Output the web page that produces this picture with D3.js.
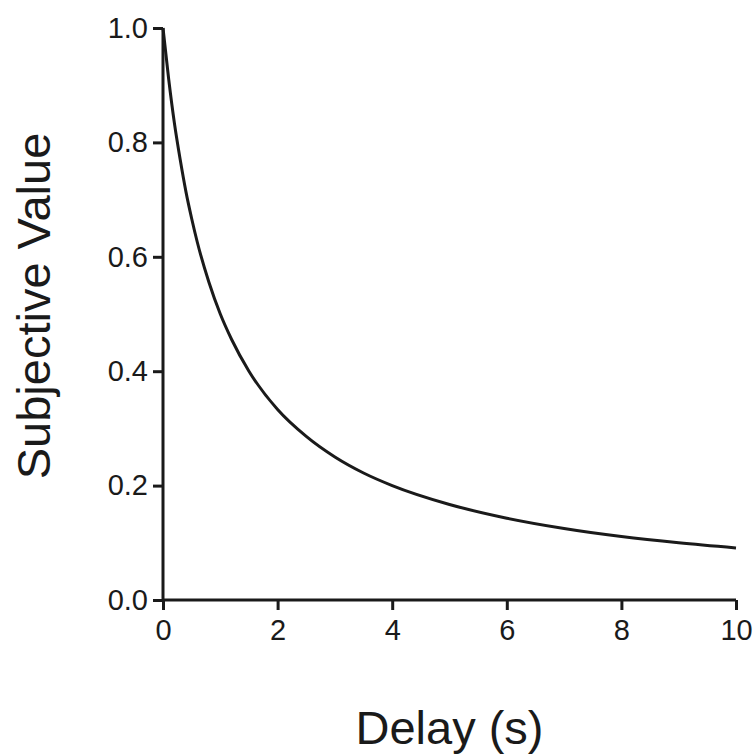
<!DOCTYPE html>
<html>
<head>
<meta charset="utf-8">
<script src="https://cdn.jsdelivr.net/npm/d3@7"></script>
<style>
  html, body { margin: 0; padding: 0; background: #fff; }
  svg { display: block; }
  text { font-family: "Liberation Sans", Arial, sans-serif; fill: #1a1a1a; }
</style>
</head>
<body>
<svg id="chart" width="756" height="754"></svg>
<script>
// Data
const delays = [0, 0.1, 0.2, 0.3, 0.4, 0.5, 0.6, 0.8, 1, 1.2, 1.5, 2, 2.5, 3, 3.5, 4, 5, 6, 7, 8, 9, 10];
const subjectiveValues = [1, 0.91, 0.833, 0.77, 0.714, 0.667, 0.625, 0.556, 0.5, 0.455, 0.4, 0.333, 0.286, 0.25, 0.222, 0.2, 0.167, 0.143, 0.125, 0.111, 0.1, 0.091];
const xTicks = [0, 2, 4, 6, 8, 10];
const yTicks = [0, 0.2, 0.4, 0.6, 0.8, 1.0];
const xLabel = "Delay (s)";
const yLabel = "Subjective Value";

const svg = d3.select("#chart");
const x = d3.scaleLinear().domain([0, 10]).range([163, 736]);
const y = d3.scaleLinear().domain([0, 1]).range([600, 28]);

const ink = "#1a1a1a";

// Y axis
const yAxis = svg.append("g")
  .attr("transform", `translate(${x(0)},0)`)
  .call(d3.axisLeft(y).tickValues(yTicks).tickFormat(d3.format(".1f")).tickSize(10).tickPadding(5));
// X axis
const xAxis = svg.append("g")
  .attr("transform", `translate(0,${y(0)})`)
  .call(d3.axisBottom(x).tickValues(xTicks).tickFormat(d3.format("d")).tickSize(10).tickPadding(9));

[yAxis, xAxis].forEach(g => {
  g.select(".domain").attr("stroke", ink).attr("stroke-width", 3);
  g.selectAll(".tick line").attr("stroke", ink).attr("stroke-width", 3);
  g.selectAll(".tick text").attr("font-size", 29).attr("fill", ink)
    .style("font-family", '"Liberation Sans", Arial, sans-serif');
});
yAxis.select(".domain").attr("d", `M0,${y(1)}V${y(0)}`);
xAxis.select(".domain").attr("d", `M${x(0)},0H${x(10)}`);

// Curve
const pts = delays.map((d, i) => [d, subjectiveValues[i]]);
svg.append("path")
  .datum(pts)
  .attr("fill", "none")
  .attr("stroke", ink)
  .attr("stroke-width", 3)
  .attr("d", d3.line().x(d => x(d[0])).y(d => y(d[1])).curve(d3.curveMonotoneX));

// Axis titles
svg.append("text")
  .attr("x", (x(0) + x(10)) / 2)
  .attr("y", 744)
  .attr("text-anchor", "middle")
  .attr("font-size", 47)
  .text(xLabel);

svg.append("text")
  .attr("transform", `translate(50,306) rotate(-90)`)
  .attr("text-anchor", "middle")
  .attr("font-size", 47)
  .text(yLabel);
</script>
</body>
</html>
